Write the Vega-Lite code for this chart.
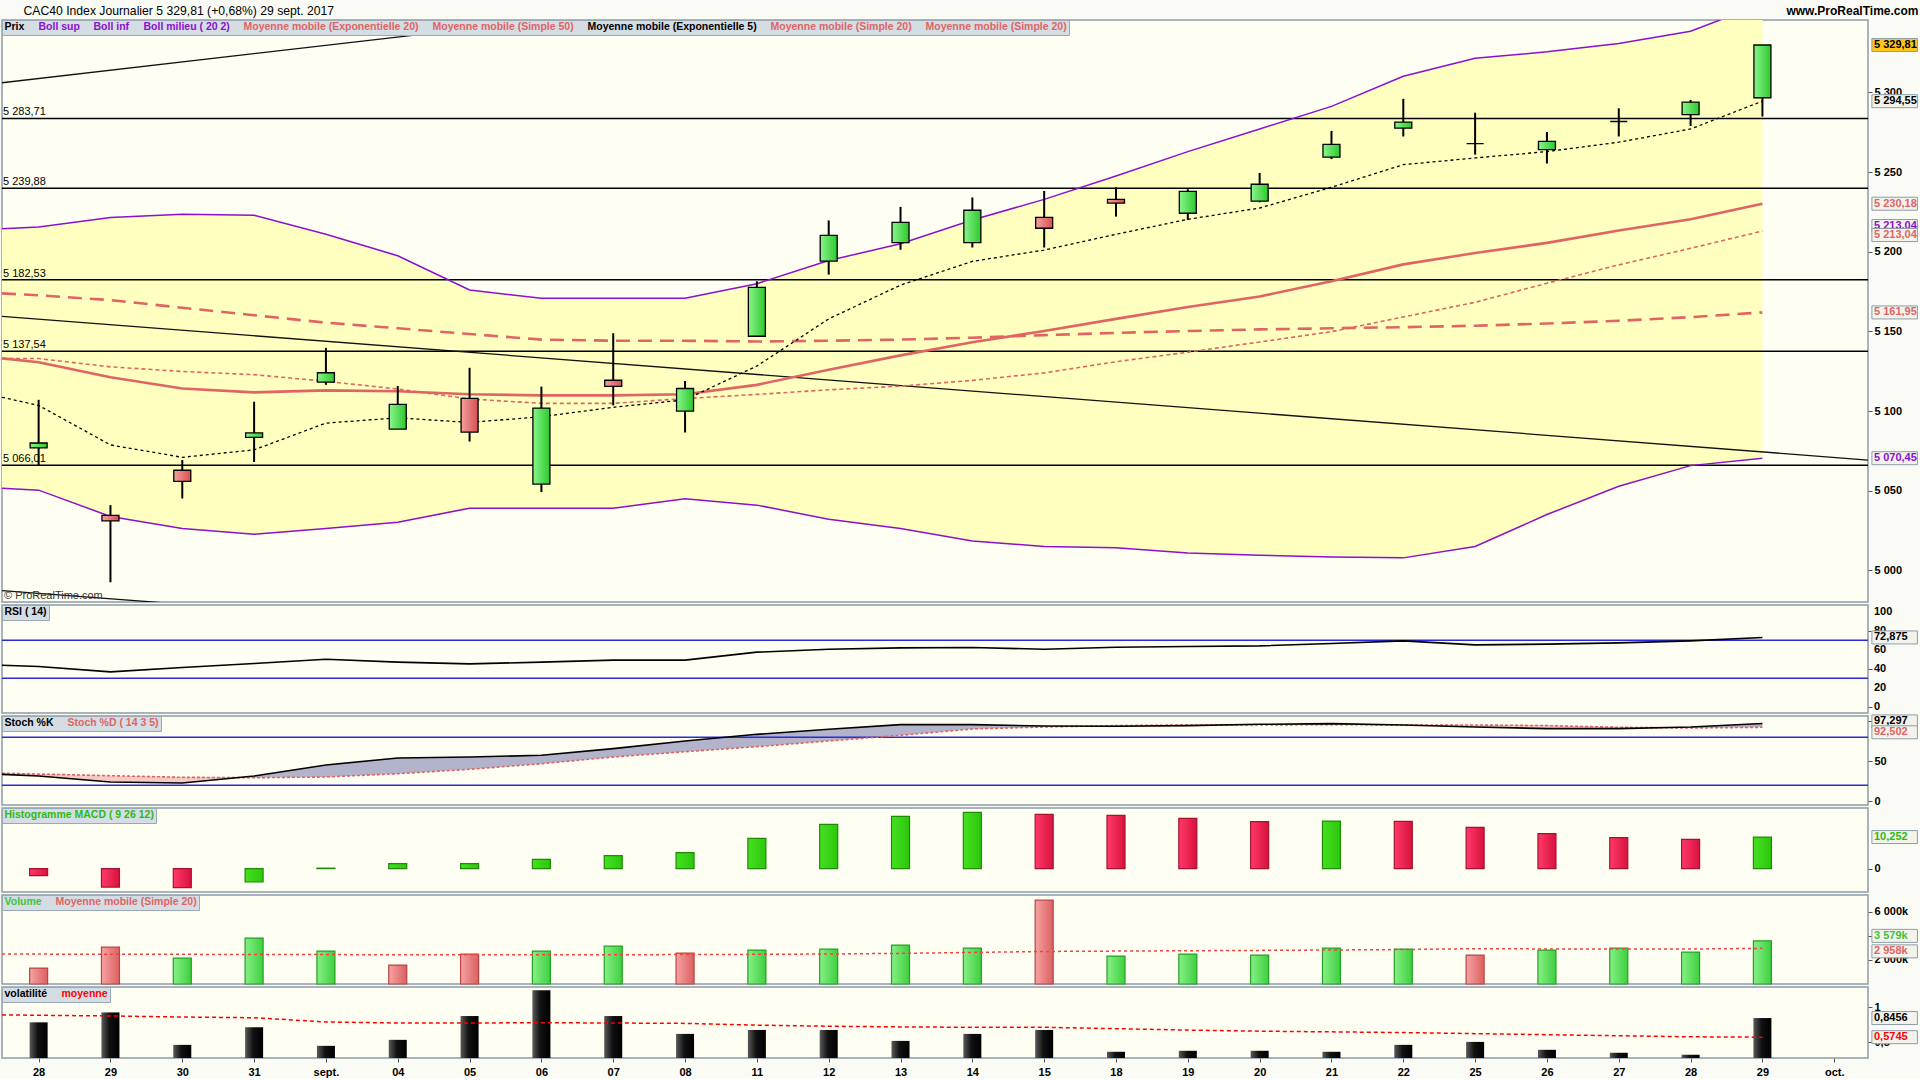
{
"$schema": "https://vega.github.io/schema/vega-lite/v6.json",
"background": "#fbfbf6",
"padding": {"left": 0, "top": 3, "right": 0, "bottom": 0},
"bounds": "flush",
"spacing": 3,
"config": {
  "view": {"stroke": "#8d9ca8", "strokeWidth": 1.5, "fill": "#fefef3"},
  "scale": {"continuousPadding": 0},
  "axis": {"labelFont": "Liberation Sans", "labelFontSize": 11, "labelFontWeight": "bold", "labelColor": "#000000", "tickColor": "#555555", "tickSize": 4, "grid": false, "domain": false, "labelPadding": 2, "labelOverlap": false, "labelBound": false},
  "legend": {"orient": "top-left", "offset": 0, "padding": 2, "fillColor": "#d5dde4", "strokeColor": "#9aa9b4", "symbolSize": 0, "symbolStrokeWidth": 0, "symbolOpacity": 0, "labelOffset": -10, "labelFont": "Liberation Sans", "labelFontSize": 10.5, "labelFontWeight": "bold", "labelLimit": 500, "columnPadding": 13, "direction": "horizontal"},
  "text": {"font": "Liberation Sans"}
},
"resolve": {"scale": {"x": "independent", "y": "independent", "color": "independent"}, "legend": {"color": "independent"}, "axis": {"x": "independent", "y": "independent"}},
"datasets": {
  "days": [
    {"i":0,"o":5076.9,"h":5107.1,"l":5065.8,"c":5080.0,"vol":1325,"vd":"down","macd":-2.3,"md":"down","vt":0.785},
    {"i":1,"o":5034.6,"h":5041.0,"l":4992.6,"c":5031.1,"vol":3063,"vd":"down","macd":-6.0,"md":"down","vt":0.925},
    {"i":2,"o":5062.9,"h":5069.3,"l":5045.2,"c":5055.9,"vol":2152,"vd":"up","macd":-6.2,"md":"down","vt":0.466},
    {"i":3,"o":5083.5,"h":5105.9,"l":5068.1,"c":5086.3,"vol":3808,"vd":"up","macd":-4.35,"md":"up","vt":0.715},
    {"i":4,"o":5118.2,"h":5139.7,"l":5116.5,"c":5124.1,"vol":2732,"vd":"up","macd":0.15,"md":"up","vt":0.452},
    {"i":5,"o":5088.7,"h":5115.8,"l":5088.7,"c":5104.3,"vol":1573,"vd":"down","macd":1.6,"md":"up","vt":0.537},
    {"i":6,"o":5108.0,"h":5127.2,"l":5080.9,"c":5086.8,"vol":2483,"vd":"down","macd":1.65,"md":"up","vt":0.874},
    {"i":7,"o":5054.2,"h":5115.4,"l":5049.2,"c":5101.9,"vol":2732,"vd":"up","macd":3.0,"md":"up","vt":1.239},
    {"i":8,"o":5119.4,"h":5148.9,"l":5103.6,"c":5115.6,"vol":3146,"vd":"up","macd":4.2,"md":"up","vt":0.874},
    {"i":9,"o":5100.0,"h":5118.9,"l":5086.6,"c":5114.2,"vol":2566,"vd":"down","macd":5.2,"md":"up","vt":0.621},
    {"i":10,"o":5147.0,"h":5181.5,"l":5147.0,"c":5177.7,"vol":2815,"vd":"up","macd":9.8,"md":"up","vt":0.677},
    {"i":11,"o":5194.2,"h":5219.7,"l":5185.7,"c":5210.3,"vol":2897,"vd":"up","macd":14.4,"md":"up","vt":0.677},
    {"i":12,"o":5205.8,"h":5228.2,"l":5201.3,"c":5218.5,"vol":3228,"vd":"up","macd":17.0,"md":"up","vt":0.522},
    {"i":13,"o":5205.8,"h":5234.1,"l":5202.7,"c":5226.1,"vol":2980,"vd":"up","macd":18.3,"md":"up","vt":0.621},
    {"i":14,"o":5221.6,"h":5238.2,"l":5202.7,"c":5214.8,"vol":6954,"vd":"down","macd":17.6,"md":"down","vt":0.677},
    {"i":15,"o":5232.9,"h":5240.5,"l":5222.1,"c":5230.6,"vol":2318,"vd":"up","macd":17.3,"md":"down","vt":0.368},
    {"i":16,"o":5224.2,"h":5239.3,"l":5220.0,"c":5237.9,"vol":2483,"vd":"up","macd":16.3,"md":"down","vt":0.382},
    {"i":17,"o":5231.8,"h":5249.5,"l":5231.1,"c":5242.4,"vol":2401,"vd":"up","macd":15.3,"md":"down","vt":0.382},
    {"i":18,"o":5259.4,"h":5275.9,"l":5258.2,"c":5267.4,"vol":2980,"vd":"up","macd":15.45,"md":"up","vt":0.368},
    {"i":19,"o":5277.6,"h":5296.0,"l":5272.4,"c":5281.4,"vol":2897,"vd":"up","macd":15.35,"md":"down","vt":0.466},
    {"i":20,"o":5267.9,"h":5287.3,"l":5261.0,"c":5267.9,"vol":2401,"vd":"down","macd":13.4,"md":"down","vt":0.508},
    {"i":21,"o":5264.1,"h":5275.2,"l":5255.4,"c":5269.3,"vol":2815,"vd":"up","macd":11.4,"md":"down","vt":0.396},
    {"i":22,"o":5281.8,"h":5290.1,"l":5272.4,"c":5281.8,"vol":2980,"vd":"up","macd":10.1,"md":"down","vt":0.354},
    {"i":23,"o":5286.1,"h":5295.3,"l":5279.0,"c":5293.9,"vol":2649,"vd":"up","macd":9.5,"md":"down","vt":0.326},
    {"i":24,"o":5296.7,"h":5329.81,"l":5284.9,"c":5329.81,"vol":3579,"vd":"up","macd":10.252,"md":"up","vt":0.8456}
  ],
  "ind": [
    {"i":-0.51,"bsup":5214.5,"binf":5051.6,"bmid":5133.0,"ema20":5133.1,"sma50":5173.9,"ema5":5108.7,"rsi":43.7,"k":33.7,"d":35.0,"vma":2480,"vtm":0.89},
    {"i":0,"bsup":5215.5,"binf":5050.4,"bmid":5133.0,"ema20":5130.7,"sma50":5172.7,"ema5":5103.6,"rsi":42.3,"k":31.6,"d":34.1,"vma":2480,"vtm":0.885},
    {"i":1,"bsup":5221.6,"binf":5033.9,"bmid":5127.8,"ema20":5121.3,"sma50":5169.7,"ema5":5078.8,"rsi":36.7,"k":24.1,"d":32.0,"vma":2470,"vtm":0.875},
    {"i":2,"bsup":5223.5,"binf":5026.3,"bmid":5124.9,"ema20":5114.2,"sma50":5164.9,"ema5":5071.0,"rsi":41.2,"k":22.9,"d":30.0,"vma":2460,"vtm":0.86},
    {"i":3,"bsup":5223.0,"binf":5022.8,"bmid":5122.9,"ema20":5111.8,"sma50":5160.2,"ema5":5075.7,"rsi":45.5,"k":31.6,"d":29.5,"vma":2450,"vtm":0.85},
    {"i":4,"bsup":5211.0,"binf":5026.3,"bmid":5118.7,"ema20":5113.0,"sma50":5155.5,"ema5":5092.5,"rsi":50.0,"k":45.4,"d":30.4,"vma":2440,"vtm":0.79},
    {"i":5,"bsup":5197.5,"binf":5030.3,"bmid":5113.9,"ema20":5112.5,"sma50":5152.0,"ema5":5095.8,"rsi":46.9,"k":54.1,"d":34.5,"vma":2430,"vtm":0.775},
    {"i":6,"bsup":5176.0,"binf":5039.1,"bmid":5107.6,"ema20":5110.6,"sma50":5148.4,"ema5":5092.9,"rsi":45.1,"k":55.4,"d":40.0,"vma":2420,"vtm":0.775},
    {"i":7,"bsup":5170.8,"binf":5039.1,"bmid":5104.9,"ema20":5109.9,"sma50":5144.9,"ema5":5096.5,"rsi":46.9,"k":57.5,"d":47.0,"vma":2420,"vtm":0.78},
    {"i":8,"bsup":5170.8,"binf":5039.1,"bmid":5104.9,"ema20":5109.9,"sma50":5144.2,"ema5":5102.4,"rsi":49.0,"k":65.8,"d":55.4,"vma":2430,"vtm":0.775},
    {"i":9,"bsup":5170.8,"binf":5045.0,"bmid":5107.9,"ema20":5110.6,"sma50":5144.2,"ema5":5107.1,"rsi":49.0,"k":75.4,"d":62.0,"vma":2440,"vtm":0.77},
    {"i":10,"bsup":5180.0,"binf":5041.0,"bmid":5110.5,"ema20":5116.5,"sma50":5143.7,"ema5":5128.3,"rsi":57.4,"k":83.7,"d":68.3,"vma":2460,"vtm":0.745},
    {"i":11,"bsup":5194.5,"binf":5032.2,"bmid":5113.4,"ema20":5126.0,"sma50":5144.2,"ema5":5157.9,"rsi":60.5,"k":90.0,"d":75.4,"vma":2490,"vtm":0.73},
    {"i":12,"bsup":5205.1,"binf":5026.3,"bmid":5115.7,"ema20":5135.0,"sma50":5144.9,"ema5":5179.1,"rsi":61.9,"k":95.8,"d":82.5,"vma":2540,"vtm":0.72},
    {"i":13,"bsup":5220.0,"binf":5018.5,"bmid":5119.3,"ema20":5143.2,"sma50":5146.1,"ema5":5194.0,"rsi":62.3,"k":95.8,"d":90.4,"vma":2620,"vtm":0.715},
    {"i":14,"bsup":5232.9,"binf":5015.0,"bmid":5124.0,"ema20":5150.3,"sma50":5147.7,"ema5":5201.1,"rsi":60.5,"k":94.1,"d":92.9,"vma":2700,"vtm":0.715},
    {"i":15,"bsup":5247.6,"binf":5014.3,"bmid":5131.0,"ema20":5157.9,"sma50":5149.1,"ema5":5211.0,"rsi":62.6,"k":93.7,"d":94.6,"vma":2730,"vtm":0.695},
    {"i":16,"bsup":5262.9,"binf":5011.0,"bmid":5137.0,"ema20":5165.4,"sma50":5150.3,"ema5":5220.4,"rsi":63.3,"k":94.6,"d":95.4,"vma":2760,"vtm":0.675},
    {"i":17,"bsup":5277.1,"binf":5009.6,"bmid":5143.4,"ema20":5172.0,"sma50":5151.3,"ema5":5227.5,"rsi":64.0,"k":96.2,"d":95.4,"vma":2790,"vtm":0.66},
    {"i":18,"bsup":5291.3,"binf":5008.4,"bmid":5149.9,"ema20":5181.5,"sma50":5152.0,"ema5":5240.5,"rsi":66.5,"k":97.1,"d":95.8,"vma":2820,"vtm":0.65},
    {"i":19,"bsup":5310.2,"binf":5007.9,"bmid":5159.1,"ema20":5192.1,"sma50":5152.7,"ema5":5254.7,"rsi":69.3,"k":95.4,"d":95.4,"vma":2860,"vtm":0.64},
    {"i":20,"bsup":5321.5,"binf":5015.0,"bmid":5168.3,"ema20":5199.2,"sma50":5153.6,"ema5":5258.9,"rsi":65.1,"k":92.9,"d":95.4,"vma":2930,"vtm":0.625},
    {"i":21,"bsup":5325.5,"binf":5035.1,"bmid":5180.3,"ema20":5205.6,"sma50":5155.0,"ema5":5262.9,"rsi":65.8,"k":90.8,"d":94.6,"vma":2910,"vtm":0.61},
    {"i":22,"bsup":5330.7,"binf":5052.8,"bmid":5191.8,"ema20":5213.4,"sma50":5156.7,"ema5":5268.8,"rsi":67.2,"k":90.8,"d":92.5,"vma":2900,"vtm":0.595},
    {"i":23,"bsup":5338.5,"binf":5065.8,"bmid":5202.2,"ema20":5220.4,"sma50":5159.0,"ema5":5277.1,"rsi":69.3,"k":92.9,"d":91.6,"vma":2900,"vtm":0.58},
    {"i":24,"bsup":5355.6,"binf":5070.45,"bmid":5213.04,"ema20":5230.18,"sma50":5161.95,"ema5":5294.55,"rsi":72.875,"k":97.297,"d":92.502,"vma":2958,"vtm":0.5745}
  ],
  "hlines": [
    {"v":5283.71,"t":"5 283,71"},{"v":5239.88,"t":"5 239,88"},{"v":5182.53,"t":"5 182,53"},{"v":5137.54,"t":"5 137,54"},{"v":5066.01,"t":"5 066,01"}
  ],
  "trend": [
    {"id":"a","i":-0.51,"v":5306.1},{"id":"a","i":8.0,"v":5350.4},
    {"id":"b","i":-0.51,"v":5159.5},{"id":"b","i":25.47,"v":5069.3},
    {"id":"c","i":-0.51,"v":4987.4},{"id":"c","i":2.5,"v":4977.1}
  ],
  "levels": [{"p":"rsi","v":70},{"p":"rsi","v":30},{"p":"stoch","v":80},{"p":"stoch","v":20},{"p":"macd","v":0}],
  "rsiticks": [{"v":0,"t":"0"},{"v":20,"t":"20"},{"v":40,"t":"40"},{"v":60,"t":"60"},{"v":80,"t":"80"},{"v":100,"t":"100"}],
  "notes": [{"t":"© ProRealTime.com","v":4980.6}],
  "tags": [
    {"p":"price","v":5329.81,"t":"5 329,81","k":"close"},
    {"p":"price","v":5294.55,"t":"5 294,55","k":"ema5"},
    {"p":"price","v":5230.18,"t":"5 230,18","k":"ema20"},
    {"p":"price","v":5213.04,"t":"5 213,04","k":"bmid"},
    {"p":"price","v":5213.04,"t":"5 213,04","k":"sma20"},
    {"p":"price","v":5161.95,"t":"5 161,95","k":"sma50"},
    {"p":"price","v":5070.45,"t":"5 070,45","k":"binf"},
    {"p":"rsi","v":72.875,"t":"72,875","k":"rsi"},
    {"p":"stoch","v":97.297,"t":"97,297","k":"k"},
    {"p":"stoch","v":92.502,"t":"92,502","k":"d"},
    {"p":"macd","v":10.252,"t":"10,252","k":"macd"},
    {"p":"vol","v":3579,"t":"3 579k","k":"vol"},
    {"p":"vol","v":2958,"t":"2 958k","k":"vma"},
    {"p":"volat","v":0.8456,"t":"0,8456","k":"vt"},
    {"p":"volat","v":0.5745,"t":"0,5745","k":"vtm"}
  ]
},
"vconcat": [
{
  "width": 1866, "height": 582,
  "layer": [
    {"data": {"name": "ind"}, "mark": {"type": "area", "fill": "#ffffbf", "clip": true},
     "encoding": {
       "x": {"field": "i", "type": "quantitative", "scale": {"domain": [-0.51, 25.47], "nice": false, "zero": false, "padding": 0},
             "axis": {"orient": "top", "labels": false, "ticks": false, "domain": false, "title": "CAC40 Index   Journalier   5 329,81 (+0,68%)   29 sept. 2017", "titleX": 21, "titleY": -10, "titleAlign": "left", "titleBaseline": "middle", "titleAngle": 0, "titleFontSize": 12.2, "titleFontWeight": "normal", "titleFont": "Liberation Sans", "titleColor": "#000000"}},
       "y": {"field": "bsup", "type": "quantitative", "scale": {"domain": [4980.2, 5345.5], "nice": false, "zero": false},
             "axis": {"orient": "right", "values": [5000,5050,5100,5150,5200,5250,5300], "labelOverlap": false, "labelExpr": "replace(format(datum.value, ',d'), ',', ' ')", "title": "www.ProRealTime.com", "titleX": 50, "titleY": -10, "titleAngle": 0, "titleAlign": "right", "titleBaseline": "middle", "titleFontSize": 12, "titleFontWeight": "bold", "titleFont": "Liberation Sans", "titleColor": "#000000"}},
       "y2": {"field": "binf"}
     }},
    {"data": {"name": "hlines"}, "mark": {"type": "rule", "color": "#000000", "strokeWidth": 1.5, "clip": true},
     "encoding": {"y": {"field": "v", "type": "quantitative", "scale": {"domain": [4980.2, 5345.5], "nice": false, "zero": false}}}},
    {"data": {"name": "hlines"}, "mark": {"type": "text", "align": "left", "baseline": "bottom", "dx": 1, "dy": -1, "fontSize": 11, "color": "#000000"},
     "encoding": {"x": {"datum": -0.51, "type": "quantitative", "scale": {"domain": [-0.51, 25.47], "nice": false, "zero": false, "padding": 0}},
                  "y": {"field": "v", "type": "quantitative", "scale": {"domain": [4980.2, 5345.5], "nice": false, "zero": false}},
                  "text": {"field": "t"}}},
    {"data": {"name": "trend"}, "mark": {"type": "line", "color": "#111111", "strokeWidth": 1.3, "clip": true},
     "encoding": {"x": {"field": "i", "type": "quantitative", "scale": {"domain": [-0.51, 25.47], "nice": false, "zero": false, "padding": 0}},
                  "y": {"field": "v", "type": "quantitative", "scale": {"domain": [4980.2, 5345.5], "nice": false, "zero": false}},
                  "detail": {"field": "id"}}},
    {"data": {"name": "ind"}, "mark": {"type": "line", "strokeWidth": 1.5, "clip": true},
     "encoding": {"x": {"field": "i", "type": "quantitative", "scale": {"domain": [-0.51, 25.47], "nice": false, "zero": false, "padding": 0}},
                  "y": {"field": "bsup", "type": "quantitative", "scale": {"domain": [4980.2, 5345.5], "nice": false, "zero": false}},
                  "color": {"datum": "bsup", "type": "nominal",
                    "scale": {"domain": ["prix","bsup","binf","bmid","ema20","sma50","ema5","sma20","sma20b"], "range": ["#000000","#8b10d0","#8b10d0","#8b10d0","#e06464","#e06464","#000000","#e06464","#e06464"]},
                    "legend": {"title": null, "columns": 9, "direction": "horizontal", "symbolType": "circle", "symbolSize": 0,
                      "labelExpr": "['Prix','Boll sup','Boll inf','Boll milieu ( 20 2)','Moyenne mobile (Exponentielle 20)','Moyenne mobile (Simple 50)','Moyenne mobile (Exponentielle 5)','Moyenne mobile (Simple 20)','Moyenne mobile (Simple 20)'][indexof(['prix','bsup','binf','bmid','ema20','sma50','ema5','sma20','sma20b'], datum.value)]",
                      "encode": {"labels": {"update": {"fill": {"signal": "indexof(['bsup','binf','bmid'], datum.value) >= 0 ? '#8b10d0' : (indexof(['prix','ema5'], datum.value) >= 0 ? '#000000' : '#e06464')"}}}}}}}},
    {"data": {"name": "ind"}, "mark": {"type": "line", "strokeWidth": 1.5, "clip": true},
     "encoding": {"x": {"field": "i", "type": "quantitative", "scale": {"domain": [-0.51, 25.47], "nice": false, "zero": false, "padding": 0}},
                  "y": {"field": "binf", "type": "quantitative", "scale": {"domain": [4980.2, 5345.5], "nice": false, "zero": false}},
                  "color": {"datum": "binf", "type": "nominal", "scale": {"domain": ["prix","bsup","binf","bmid","ema20","sma50","ema5","sma20","sma20b"], "range": ["#000000","#8b10d0","#8b10d0","#8b10d0","#e06464","#e06464","#000000","#e06464","#e06464"]}}}},
    {"data": {"name": "ind"}, "mark": {"type": "line", "strokeWidth": 2.6, "strokeDash": [14, 8], "clip": true},
     "encoding": {"x": {"field": "i", "type": "quantitative", "scale": {"domain": [-0.51, 25.47], "nice": false, "zero": false, "padding": 0}},
                  "y": {"field": "sma50", "type": "quantitative", "scale": {"domain": [4980.2, 5345.5], "nice": false, "zero": false}},
                  "color": {"datum": "sma50", "type": "nominal", "scale": {"domain": ["prix","bsup","binf","bmid","ema20","sma50","ema5","sma20","sma20b"], "range": ["#000000","#8b10d0","#8b10d0","#8b10d0","#e06464","#e06464","#000000","#e06464","#e06464"]}}}},
    {"data": {"name": "ind"}, "mark": {"type": "line", "strokeWidth": 2.6, "clip": true},
     "encoding": {"x": {"field": "i", "type": "quantitative", "scale": {"domain": [-0.51, 25.47], "nice": false, "zero": false, "padding": 0}},
                  "y": {"field": "ema20", "type": "quantitative", "scale": {"domain": [4980.2, 5345.5], "nice": false, "zero": false}},
                  "color": {"datum": "ema20", "type": "nominal", "scale": {"domain": ["prix","bsup","binf","bmid","ema20","sma50","ema5","sma20","sma20b"], "range": ["#000000","#8b10d0","#8b10d0","#8b10d0","#e06464","#e06464","#000000","#e06464","#e06464"]}}}},
    {"data": {"name": "ind"}, "mark": {"type": "line", "strokeWidth": 1.6, "strokeDash": [4, 3], "clip": true},
     "encoding": {"x": {"field": "i", "type": "quantitative", "scale": {"domain": [-0.51, 25.47], "nice": false, "zero": false, "padding": 0}},
                  "y": {"field": "bmid", "type": "quantitative", "scale": {"domain": [4980.2, 5345.5], "nice": false, "zero": false}},
                  "color": {"datum": "sma20", "type": "nominal", "scale": {"domain": ["prix","bsup","binf","bmid","ema20","sma50","ema5","sma20","sma20b"], "range": ["#000000","#8b10d0","#8b10d0","#8b10d0","#e06464","#e06464","#000000","#e06464","#e06464"]}}}},
    {"data": {"name": "ind"}, "mark": {"type": "line", "strokeWidth": 1.3, "strokeDash": [3, 3], "clip": true},
     "encoding": {"x": {"field": "i", "type": "quantitative", "scale": {"domain": [-0.51, 25.47], "nice": false, "zero": false, "padding": 0}},
                  "y": {"field": "ema5", "type": "quantitative", "scale": {"domain": [4980.2, 5345.5], "nice": false, "zero": false}},
                  "color": {"datum": "ema5", "type": "nominal", "scale": {"domain": ["prix","bsup","binf","bmid","ema20","sma50","ema5","sma20","sma20b"], "range": ["#000000","#8b10d0","#8b10d0","#8b10d0","#e06464","#e06464","#000000","#e06464","#e06464"]}}}},
    {"data": {"name": "days"}, "mark": {"type": "rule", "color": "#000000", "strokeWidth": 2, "clip": true},
     "encoding": {"x": {"field": "i", "type": "quantitative", "scale": {"domain": [-0.51, 25.47], "nice": false, "zero": false, "padding": 0}},
                  "y": {"field": "l", "type": "quantitative", "scale": {"domain": [4980.2, 5345.5], "nice": false, "zero": false}},
                  "y2": {"field": "h"}}},
    {"data": {"name": "days"}, "mark": {"type": "bar", "size": 17, "stroke": "#000000", "strokeWidth": 1.3, "clip": true},
     "encoding": {"x": {"field": "i", "type": "quantitative", "scale": {"domain": [-0.51, 25.47], "nice": false, "zero": false, "padding": 0}},
                  "y": {"field": "o", "type": "quantitative", "scale": {"domain": [4980.2, 5345.5], "nice": false, "zero": false}},
                  "y2": {"field": "c"},
                  "fill": {"condition": {"test": "datum.c > datum.o", "value": {"gradient": "linear", "x1": 0, "y1": 0, "x2": 1, "y2": 0, "stops": [{"offset": 0, "color": "#8af58a"}, {"offset": 1, "color": "#2ec82e"}]}},
                           "value": {"gradient": "linear", "x1": 0, "y1": 0, "x2": 1, "y2": 0, "stops": [{"offset": 0, "color": "#f5a0a0"}, {"offset": 1, "color": "#d65050"}]}}}},
    {"data": {"name": "notes"}, "mark": {"type": "text", "align": "left", "baseline": "bottom", "dx": 2, "fontSize": 11, "color": "#333333"},
     "encoding": {"x": {"datum": -0.51, "type": "quantitative", "scale": {"domain": [-0.51, 25.47], "nice": false, "zero": false, "padding": 0}},
                  "y": {"field": "v", "type": "quantitative", "scale": {"domain": [4980.2, 5345.5], "nice": false, "zero": false}},
                  "text": {"field": "t"}}},
    {"data": {"name": "tags"}, "transform": [{"filter": "datum.p == 'price' && datum.k != 'bmid' && datum.k != 'sma20'"}],
     "mark": {"type": "point", "shape": "M0.6,-1L7.6,-1L7.6,1L0.6,1Z", "size": 169, "filled": true, "opacity": 1, "stroke": "#8d9ca8", "strokeWidth": 1},
     "encoding": {"x": {"datum": 25.47, "type": "quantitative", "scale": {"domain": [-0.51, 25.47], "nice": false, "zero": false, "padding": 0}},
                  "y": {"field": "v", "type": "quantitative", "scale": {"domain": [4980.2, 5345.5], "nice": false, "zero": false}},
                  "fill": {"condition": {"test": "datum.k == 'close'", "value": "#ffc619"}, "value": "#f3f3ec"}}},
    {"data": {"name": "tags"}, "transform": [{"filter": "datum.p == 'price' && datum.k != 'bmid' && datum.k != 'sma20'"}],
     "mark": {"type": "text", "align": "left", "baseline": "middle", "dx": 6, "fontSize": 11, "fontWeight": "bold"},
     "encoding": {"x": {"datum": 25.47, "type": "quantitative", "scale": {"domain": [-0.51, 25.47], "nice": false, "zero": false, "padding": 0}},
                  "y": {"field": "v", "type": "quantitative", "scale": {"domain": [4980.2, 5345.5], "nice": false, "zero": false}},
                  "text": {"field": "t"},
                  "color": {"condition": [{"test": "indexof(['ema20','sma50'], datum.k) >= 0", "value": "#e06464"}, {"test": "datum.k == 'binf'", "value": "#8b10d0"}], "value": "#000000"}}},
    {"data": {"name": "tags"}, "transform": [{"filter": "datum.p == 'price' && datum.k == 'bmid'"}],
     "mark": {"type": "point", "shape": "M0.6,-1L7.6,-1L7.6,1L0.6,1Z", "size": 169, "filled": true, "opacity": 1, "stroke": "#8d9ca8", "strokeWidth": 1, "fill": "#f3f3ec", "yOffset": -5},
     "encoding": {"x": {"datum": 25.47, "type": "quantitative", "scale": {"domain": [-0.51, 25.47], "nice": false, "zero": false, "padding": 0}},
                  "y": {"field": "v", "type": "quantitative", "scale": {"domain": [4980.2, 5345.5], "nice": false, "zero": false}}}},
    {"data": {"name": "tags"}, "transform": [{"filter": "datum.p == 'price' && datum.k == 'bmid'"}],
     "mark": {"type": "text", "align": "left", "baseline": "middle", "dx": 6, "dy": -5, "fontSize": 11, "fontWeight": "bold", "color": "#8b10d0"},
     "encoding": {"x": {"datum": 25.47, "type": "quantitative", "scale": {"domain": [-0.51, 25.47], "nice": false, "zero": false, "padding": 0}},
                  "y": {"field": "v", "type": "quantitative", "scale": {"domain": [4980.2, 5345.5], "nice": false, "zero": false}},
                  "text": {"field": "t"}}},
    {"data": {"name": "tags"}, "transform": [{"filter": "datum.p == 'price' && datum.k == 'sma20'"}],
     "mark": {"type": "point", "shape": "M0.6,-1L7.6,-1L7.6,1L0.6,1Z", "size": 169, "filled": true, "opacity": 1, "stroke": "#8d9ca8", "strokeWidth": 1, "fill": "#f3f3ec", "yOffset": 4},
     "encoding": {"x": {"datum": 25.47, "type": "quantitative", "scale": {"domain": [-0.51, 25.47], "nice": false, "zero": false, "padding": 0}},
                  "y": {"field": "v", "type": "quantitative", "scale": {"domain": [4980.2, 5345.5], "nice": false, "zero": false}}}},
    {"data": {"name": "tags"}, "transform": [{"filter": "datum.p == 'price' && datum.k == 'sma20'"}],
     "mark": {"type": "text", "align": "left", "baseline": "middle", "dx": 6, "dy": 4, "fontSize": 11, "fontWeight": "bold", "color": "#e06464"},
     "encoding": {"x": {"datum": 25.47, "type": "quantitative", "scale": {"domain": [-0.51, 25.47], "nice": false, "zero": false, "padding": 0}},
                  "y": {"field": "v", "type": "quantitative", "scale": {"domain": [4980.2, 5345.5], "nice": false, "zero": false}},
                  "text": {"field": "t"}}}
  ]
},
{
  "width": 1866, "height": 108,
  "layer": [
    {"data": {"name": "levels"}, "transform": [{"filter": "datum.p == 'rsi'"}], "mark": {"type": "rule", "color": "#2a2ad8", "strokeWidth": 1.5, "clip": true},
     "encoding": {"y": {"field": "v", "type": "quantitative", "scale": {"domain": [-6.6, 107], "nice": false, "zero": false},
                        "axis": {"orient": "right", "values": [0,10,20,30,40,50,60,70,80,90,100], "labels": false, "tickSize": 4, "title": null}}}},
    {"data": {"name": "ind"}, "mark": {"type": "line", "strokeWidth": 1.6, "clip": true},
     "encoding": {"x": {"field": "i", "type": "quantitative", "scale": {"domain": [-0.51, 25.47], "nice": false, "zero": false, "padding": 0}, "axis": null},
                  "y": {"field": "rsi", "type": "quantitative", "scale": {"domain": [-6.6, 107], "nice": false, "zero": false}},
                  "color": {"datum": "RSI ( 14)", "type": "nominal", "scale": {"domain": ["RSI ( 14)"], "range": ["#000000"]},
                            "legend": {"title": null, "labelColor": "#000000", "symbolType": "circle", "symbolSize": 0}}}},
    {"data": {"name": "rsiticks"}, "mark": {"type": "text", "align": "left", "baseline": "middle", "dx": 6, "fontSize": 11, "fontWeight": "bold", "color": "#000000"},
     "encoding": {"x": {"datum": 25.47, "type": "quantitative", "scale": {"domain": [-0.51, 25.47], "nice": false, "zero": false, "padding": 0}, "axis": null},
                  "y": {"field": "v", "type": "quantitative", "scale": {"domain": [-6.6, 107], "nice": false, "zero": false}},
                  "text": {"field": "t"}}},
    {"data": {"name": "tags"}, "transform": [{"filter": "datum.p == 'rsi'"}],
     "mark": {"type": "point", "shape": "M0.6,-1L7.6,-1L7.6,1L0.6,1Z", "size": 169, "filled": true, "opacity": 1, "stroke": "#8d9ca8", "strokeWidth": 1, "fill": "#f3f3ec"},
     "encoding": {"x": {"datum": 25.47, "type": "quantitative", "scale": {"domain": [-0.51, 25.47], "nice": false, "zero": false, "padding": 0}, "axis": null},
                  "y": {"field": "v", "type": "quantitative", "scale": {"domain": [-6.6, 107], "nice": false, "zero": false}}}},
    {"data": {"name": "tags"}, "transform": [{"filter": "datum.p == 'rsi'"}],
     "mark": {"type": "text", "align": "left", "baseline": "middle", "dx": 6, "fontSize": 11, "fontWeight": "bold", "color": "#000000"},
     "encoding": {"x": {"datum": 25.47, "type": "quantitative", "scale": {"domain": [-0.51, 25.47], "nice": false, "zero": false, "padding": 0}, "axis": null},
                  "y": {"field": "v", "type": "quantitative", "scale": {"domain": [-6.6, 107], "nice": false, "zero": false}},
                  "text": {"field": "t"}}}
  ]
},
{
  "width": 1866, "height": 89,
  "layer": [
    {"data": {"name": "ind"}, "mark": {"type": "area", "color": "#b3b3cb", "clip": true},
     "encoding": {"x": {"field": "i", "type": "quantitative", "scale": {"domain": [-0.51, 25.47], "nice": false, "zero": false, "padding": 0}, "axis": null},
                  "y": {"field": "k", "type": "quantitative", "scale": {"domain": [-4.6, 106.6], "nice": false, "zero": false},
                        "axis": {"orient": "right", "values": [0,50,100], "labelOverlap": false, "title": null}},
                  "y2": {"field": "d"}}},
    {"data": {"name": "ind"}, "transform": [{"filter": "datum.i <= 3"}], "mark": {"type": "area", "color": "#f6cbc4", "clip": true},
     "encoding": {"x": {"field": "i", "type": "quantitative", "scale": {"domain": [-0.51, 25.47], "nice": false, "zero": false, "padding": 0}, "axis": null},
                  "y": {"field": "k", "type": "quantitative", "scale": {"domain": [-4.6, 106.6], "nice": false, "zero": false}},
                  "y2": {"field": "d"}}},
    {"data": {"name": "ind"}, "transform": [{"filter": "datum.i >= 19 && datum.i <= 23"}], "mark": {"type": "area", "color": "#f6cbc4", "clip": true},
     "encoding": {"x": {"field": "i", "type": "quantitative", "scale": {"domain": [-0.51, 25.47], "nice": false, "zero": false, "padding": 0}, "axis": null},
                  "y": {"field": "k", "type": "quantitative", "scale": {"domain": [-4.6, 106.6], "nice": false, "zero": false}},
                  "y2": {"field": "d"}}},
    {"data": {"name": "levels"}, "transform": [{"filter": "datum.p == 'stoch'"}], "mark": {"type": "rule", "color": "#2a2ad8", "strokeWidth": 1.5, "clip": true},
     "encoding": {"y": {"field": "v", "type": "quantitative", "scale": {"domain": [-4.6, 106.6], "nice": false, "zero": false}}}},
    {"data": {"name": "ind"}, "mark": {"type": "line", "strokeWidth": 1.6, "strokeDash": [3, 2], "clip": true},
     "encoding": {"x": {"field": "i", "type": "quantitative", "scale": {"domain": [-0.51, 25.47], "nice": false, "zero": false, "padding": 0}, "axis": null},
                  "y": {"field": "d", "type": "quantitative", "scale": {"domain": [-4.6, 106.6], "nice": false, "zero": false}},
                  "color": {"datum": "Stoch %D ( 14 3 5)", "type": "nominal", "scale": {"domain": ["Stoch %K", "Stoch %D ( 14 3 5)"], "range": ["#000000", "#e06464"]},
                            "legend": {"title": null, "columns": 2, "direction": "horizontal", "symbolType": "circle", "symbolSize": 0, "encode": {"labels": {"update": {"fill": {"signal": "datum.value == 'Stoch %K' ? '#000000' : '#e06464'"}}}}}}}},
    {"data": {"name": "ind"}, "mark": {"type": "line", "strokeWidth": 1.6, "clip": true},
     "encoding": {"x": {"field": "i", "type": "quantitative", "scale": {"domain": [-0.51, 25.47], "nice": false, "zero": false, "padding": 0}, "axis": null},
                  "y": {"field": "k", "type": "quantitative", "scale": {"domain": [-4.6, 106.6], "nice": false, "zero": false}},
                  "color": {"datum": "Stoch %K", "type": "nominal", "scale": {"domain": ["Stoch %K", "Stoch %D ( 14 3 5)"], "range": ["#000000", "#e06464"]}}}},
    {"data": {"name": "tags"}, "transform": [{"filter": "datum.p == 'stoch' && datum.k == 'k'"}],
     "mark": {"type": "point", "shape": "M0.6,-1L7.6,-1L7.6,1L0.6,1Z", "size": 169, "filled": true, "opacity": 1, "stroke": "#8d9ca8", "strokeWidth": 1, "fill": "#f3f3ec", "yOffset": -2},
     "encoding": {"x": {"datum": 25.47, "type": "quantitative", "scale": {"domain": [-0.51, 25.47], "nice": false, "zero": false, "padding": 0}, "axis": null},
                  "y": {"field": "v", "type": "quantitative", "scale": {"domain": [-4.6, 106.6], "nice": false, "zero": false}}}},
    {"data": {"name": "tags"}, "transform": [{"filter": "datum.p == 'stoch' && datum.k == 'k'"}],
     "mark": {"type": "text", "align": "left", "baseline": "middle", "dx": 6, "dy": -2, "fontSize": 11, "fontWeight": "bold", "color": "#000000"},
     "encoding": {"x": {"datum": 25.47, "type": "quantitative", "scale": {"domain": [-0.51, 25.47], "nice": false, "zero": false, "padding": 0}, "axis": null},
                  "y": {"field": "v", "type": "quantitative", "scale": {"domain": [-4.6, 106.6], "nice": false, "zero": false}},
                  "text": {"field": "t"}}},
    {"data": {"name": "tags"}, "transform": [{"filter": "datum.p == 'stoch' && datum.k == 'd'"}],
     "mark": {"type": "point", "shape": "M0.6,-1L7.6,-1L7.6,1L0.6,1Z", "size": 169, "filled": true, "opacity": 1, "stroke": "#8d9ca8", "strokeWidth": 1, "fill": "#f3f3ec", "yOffset": 5},
     "encoding": {"x": {"datum": 25.47, "type": "quantitative", "scale": {"domain": [-0.51, 25.47], "nice": false, "zero": false, "padding": 0}, "axis": null},
                  "y": {"field": "v", "type": "quantitative", "scale": {"domain": [-4.6, 106.6], "nice": false, "zero": false}}}},
    {"data": {"name": "tags"}, "transform": [{"filter": "datum.p == 'stoch' && datum.k == 'd'"}],
     "mark": {"type": "text", "align": "left", "baseline": "middle", "dx": 6, "dy": 5, "fontSize": 11, "fontWeight": "bold", "color": "#e06464"},
     "encoding": {"x": {"datum": 25.47, "type": "quantitative", "scale": {"domain": [-0.51, 25.47], "nice": false, "zero": false, "padding": 0}, "axis": null},
                  "y": {"field": "v", "type": "quantitative", "scale": {"domain": [-4.6, 106.6], "nice": false, "zero": false}},
                  "text": {"field": "t"}}}
  ]
},
{
  "width": 1866, "height": 84,
  "layer": [
    {"data": {"name": "days"}, "mark": {"type": "bar", "size": 18, "strokeWidth": 1.2},
     "encoding": {"x": {"field": "i", "type": "quantitative", "scale": {"domain": [-0.51, 25.47], "nice": false, "zero": false, "padding": 0}, "axis": null},
                  "y": {"field": "macd", "type": "quantitative", "scale": {"domain": [-7.6, 19.7], "nice": false, "zero": false},
                        "axis": {"orient": "right", "values": [0], "labelOverlap": false, "title": null}},
                  "y2": {"datum": 0},
                  "fill": {"condition": {"test": "datum.md == 'up'", "value": {"gradient": "linear", "x1": 0, "y1": 0, "x2": 1, "y2": 0, "stops": [{"offset": 0, "color": "#45e020"}, {"offset": 1, "color": "#2cc70c"}]}},
                           "value": {"gradient": "linear", "x1": 0, "y1": 0, "x2": 1, "y2": 0, "stops": [{"offset": 0, "color": "#ff3a68"}, {"offset": 1, "color": "#d8123f"}]}},
                  "stroke": {"condition": {"test": "datum.md == 'up'", "value": "#1e8a06"}, "value": "#a8102f"}}},
    {"data": {"name": "levels"}, "transform": [{"filter": "datum.p == 'macd'"}], "mark": {"type": "rule", "strokeOpacity": 0, "clip": true},
     "encoding": {"y": {"field": "v", "type": "quantitative", "scale": {"domain": [-7.6, 19.7], "nice": false, "zero": false}},
                  "color": {"datum": "Histogramme MACD ( 9 26 12)", "type": "nominal", "scale": {"domain": ["Histogramme MACD ( 9 26 12)"], "range": ["#2cbb10"]},
                            "legend": {"title": null, "labelColor": "#2cbb10", "symbolType": "circle", "symbolSize": 0}}}},
    {"data": {"name": "tags"}, "transform": [{"filter": "datum.p == 'macd'"}],
     "mark": {"type": "point", "shape": "M0.6,-1L7.6,-1L7.6,1L0.6,1Z", "size": 169, "filled": true, "opacity": 1, "stroke": "#8d9ca8", "strokeWidth": 1, "fill": "#f3f3ec"},
     "encoding": {"x": {"datum": 25.47, "type": "quantitative", "scale": {"domain": [-0.51, 25.47], "nice": false, "zero": false, "padding": 0}, "axis": null},
                  "y": {"field": "v", "type": "quantitative", "scale": {"domain": [-7.6, 19.7], "nice": false, "zero": false}}}},
    {"data": {"name": "tags"}, "transform": [{"filter": "datum.p == 'macd'"}],
     "mark": {"type": "text", "align": "left", "baseline": "middle", "dx": 6, "fontSize": 11, "fontWeight": "bold", "color": "#2cbb10"},
     "encoding": {"x": {"datum": 25.47, "type": "quantitative", "scale": {"domain": [-0.51, 25.47], "nice": false, "zero": false, "padding": 0}, "axis": null},
                  "y": {"field": "v", "type": "quantitative", "scale": {"domain": [-7.6, 19.7], "nice": false, "zero": false}},
                  "text": {"field": "t"}}}
  ]
},
{
  "width": 1866, "height": 89,
  "layer": [
    {"data": {"name": "days"}, "mark": {"type": "bar", "size": 18, "strokeWidth": 1.2},
     "encoding": {"x": {"field": "i", "type": "quantitative", "scale": {"domain": [-0.51, 25.47], "nice": false, "zero": false, "padding": 0}, "axis": null},
                  "y": {"field": "vol", "type": "quantitative", "scale": {"domain": [0, 7384], "nice": false, "zero": false},
                        "axis": {"orient": "right", "values": [2000, 4000, 6000], "labelOverlap": false, "labelExpr": "replace(format(datum.value, ',d'), ',', ' ') + 'k'", "title": null}},
                  "fill": {"condition": {"test": "datum.vd == 'up'", "value": {"gradient": "linear", "x1": 0, "y1": 0, "x2": 1, "y2": 0, "stops": [{"offset": 0, "color": "#86f086"}, {"offset": 1, "color": "#3fcf3f"}]}},
                           "value": {"gradient": "linear", "x1": 0, "y1": 0, "x2": 1, "y2": 0, "stops": [{"offset": 0, "color": "#f5a3a3"}, {"offset": 1, "color": "#dc6060"}]}},
                  "stroke": {"condition": {"test": "datum.vd == 'up'", "value": "#23a023"}, "value": "#b84444"}}},
    {"data": {"name": "ind"}, "mark": {"type": "line", "strokeWidth": 1.5, "strokeDash": [3, 3], "clip": true},
     "encoding": {"x": {"field": "i", "type": "quantitative", "scale": {"domain": [-0.51, 25.47], "nice": false, "zero": false, "padding": 0}, "axis": null},
                  "y": {"field": "vma", "type": "quantitative", "scale": {"domain": [0, 7384], "nice": false, "zero": false}},
                  "color": {"datum": "Moyenne mobile (Simple 20)", "type": "nominal", "scale": {"domain": ["Volume", "Moyenne mobile (Simple 20)"], "range": ["#3cc43c", "#ee4444"]},
                            "legend": {"title": null, "columns": 2, "direction": "horizontal", "symbolType": "circle", "symbolSize": 0,
                                       "encode": {"labels": {"update": {"fill": {"signal": "datum.value == 'Volume' ? '#3cc43c' : '#e06464'"}}}}}}}},
    {"data": {"name": "tags"}, "transform": [{"filter": "datum.p == 'vol' && datum.k == 'vol'"}],
     "mark": {"type": "point", "shape": "M0.6,-1L7.6,-1L7.6,1L0.6,1Z", "size": 169, "filled": true, "opacity": 1, "stroke": "#8d9ca8", "strokeWidth": 1, "fill": "#f3f3ec", "yOffset": -5},
     "encoding": {"x": {"datum": 25.47, "type": "quantitative", "scale": {"domain": [-0.51, 25.47], "nice": false, "zero": false, "padding": 0}, "axis": null},
                  "y": {"field": "v", "type": "quantitative", "scale": {"domain": [0, 7384], "nice": false, "zero": false}}}},
    {"data": {"name": "tags"}, "transform": [{"filter": "datum.p == 'vol' && datum.k == 'vol'"}],
     "mark": {"type": "text", "align": "left", "baseline": "middle", "dx": 6, "dy": -5, "fontSize": 11, "fontWeight": "bold", "color": "#3cc43c"},
     "encoding": {"x": {"datum": 25.47, "type": "quantitative", "scale": {"domain": [-0.51, 25.47], "nice": false, "zero": false, "padding": 0}, "axis": null},
                  "y": {"field": "v", "type": "quantitative", "scale": {"domain": [0, 7384], "nice": false, "zero": false}},
                  "text": {"field": "t"}}},
    {"data": {"name": "tags"}, "transform": [{"filter": "datum.p == 'vol' && datum.k == 'vma'"}],
     "mark": {"type": "point", "shape": "M0.6,-1L7.6,-1L7.6,1L0.6,1Z", "size": 169, "filled": true, "opacity": 1, "stroke": "#8d9ca8", "strokeWidth": 1, "fill": "#f3f3ec", "yOffset": 3},
     "encoding": {"x": {"datum": 25.47, "type": "quantitative", "scale": {"domain": [-0.51, 25.47], "nice": false, "zero": false, "padding": 0}, "axis": null},
                  "y": {"field": "v", "type": "quantitative", "scale": {"domain": [0, 7384], "nice": false, "zero": false}}}},
    {"data": {"name": "tags"}, "transform": [{"filter": "datum.p == 'vol' && datum.k == 'vma'"}],
     "mark": {"type": "text", "align": "left", "baseline": "middle", "dx": 6, "dy": 3, "fontSize": 11, "fontWeight": "bold", "color": "#e06464"},
     "encoding": {"x": {"datum": 25.47, "type": "quantitative", "scale": {"domain": [-0.51, 25.47], "nice": false, "zero": false, "padding": 0}, "axis": null},
                  "y": {"field": "v", "type": "quantitative", "scale": {"domain": [0, 7384], "nice": false, "zero": false}},
                  "text": {"field": "t"}}}
  ]
},
{
  "width": 1866, "height": 71,
  "layer": [
    {"data": {"name": "days"}, "mark": {"type": "bar", "size": 18},
     "encoding": {"x": {"field": "i", "type": "quantitative", "scale": {"domain": [-0.51, 25.47], "nice": false, "zero": false, "padding": 0},
                        "axis": {"orient": "bottom", "values": [0,1,2,3,4,5,6,7,8,9,10,11,12,13,14,15,16,17,18,19,20,21,22,23,24,25], "labelOverlap": false, "title": null, "labelPadding": 4,
                                 "labelExpr": "['28','29','30','31','sept.','04','05','06','07','08','11','12','13','14','15','18','19','20','21','22','25','26','27','28','29','oct.'][datum.value]"}},
                  "y": {"field": "vt", "type": "quantitative", "scale": {"domain": [0.28, 1.285], "nice": false, "zero": false},
                        "axis": {"orient": "right", "values": [0.5, 1], "labelOverlap": false, "labelExpr": "replace(format(datum.value, '.1~f'), '.', ',')", "title": null}},
                  "y2": {"datum": 0.28},
                  "fill": {"value": {"gradient": "linear", "x1": 0, "y1": 0, "x2": 1, "y2": 0, "stops": [{"offset": 0, "color": "#5a5a5a"}, {"offset": 0.45, "color": "#111111"}, {"offset": 1, "color": "#000000"}]}}}},
    {"data": {"name": "ind"}, "mark": {"type": "line", "strokeWidth": 1.5, "strokeDash": [4, 3], "clip": true},
     "encoding": {"x": {"field": "i", "type": "quantitative", "scale": {"domain": [-0.51, 25.47], "nice": false, "zero": false, "padding": 0}},
                  "y": {"field": "vtm", "type": "quantitative", "scale": {"domain": [0.28, 1.285], "nice": false, "zero": false}},
                  "color": {"datum": "moyenne", "type": "nominal", "scale": {"domain": ["volatilité", "moyenne"], "range": ["#141414", "#ff0000"]},
                            "legend": {"title": null, "columns": 2, "direction": "horizontal", "symbolType": "circle", "symbolSize": 0, "encode": {"labels": {"update": {"fill": {"signal": "datum.value == 'moyenne' ? '#ff0000' : '#000000'"}}}}}}}},
    {"data": {"name": "tags"}, "transform": [{"filter": "datum.p == 'volat'"}],
     "mark": {"type": "point", "shape": "M0.6,-1L7.6,-1L7.6,1L0.6,1Z", "size": 169, "filled": true, "opacity": 1, "stroke": "#8d9ca8", "strokeWidth": 1, "fill": "#f3f3ec"},
     "encoding": {"x": {"datum": 25.47, "type": "quantitative", "scale": {"domain": [-0.51, 25.47], "nice": false, "zero": false, "padding": 0}},
                  "y": {"field": "v", "type": "quantitative", "scale": {"domain": [0.28, 1.285], "nice": false, "zero": false}}}},
    {"data": {"name": "tags"}, "transform": [{"filter": "datum.p == 'volat'"}],
     "mark": {"type": "text", "align": "left", "baseline": "middle", "dx": 6, "fontSize": 11, "fontWeight": "bold"},
     "encoding": {"x": {"datum": 25.47, "type": "quantitative", "scale": {"domain": [-0.51, 25.47], "nice": false, "zero": false, "padding": 0}},
                  "y": {"field": "v", "type": "quantitative", "scale": {"domain": [0.28, 1.285], "nice": false, "zero": false}},
                  "text": {"field": "t"},
                  "color": {"condition": {"test": "datum.k == 'vtm'", "value": "#ff0000"}, "value": "#000000"}}}
  ]
}
]
}
